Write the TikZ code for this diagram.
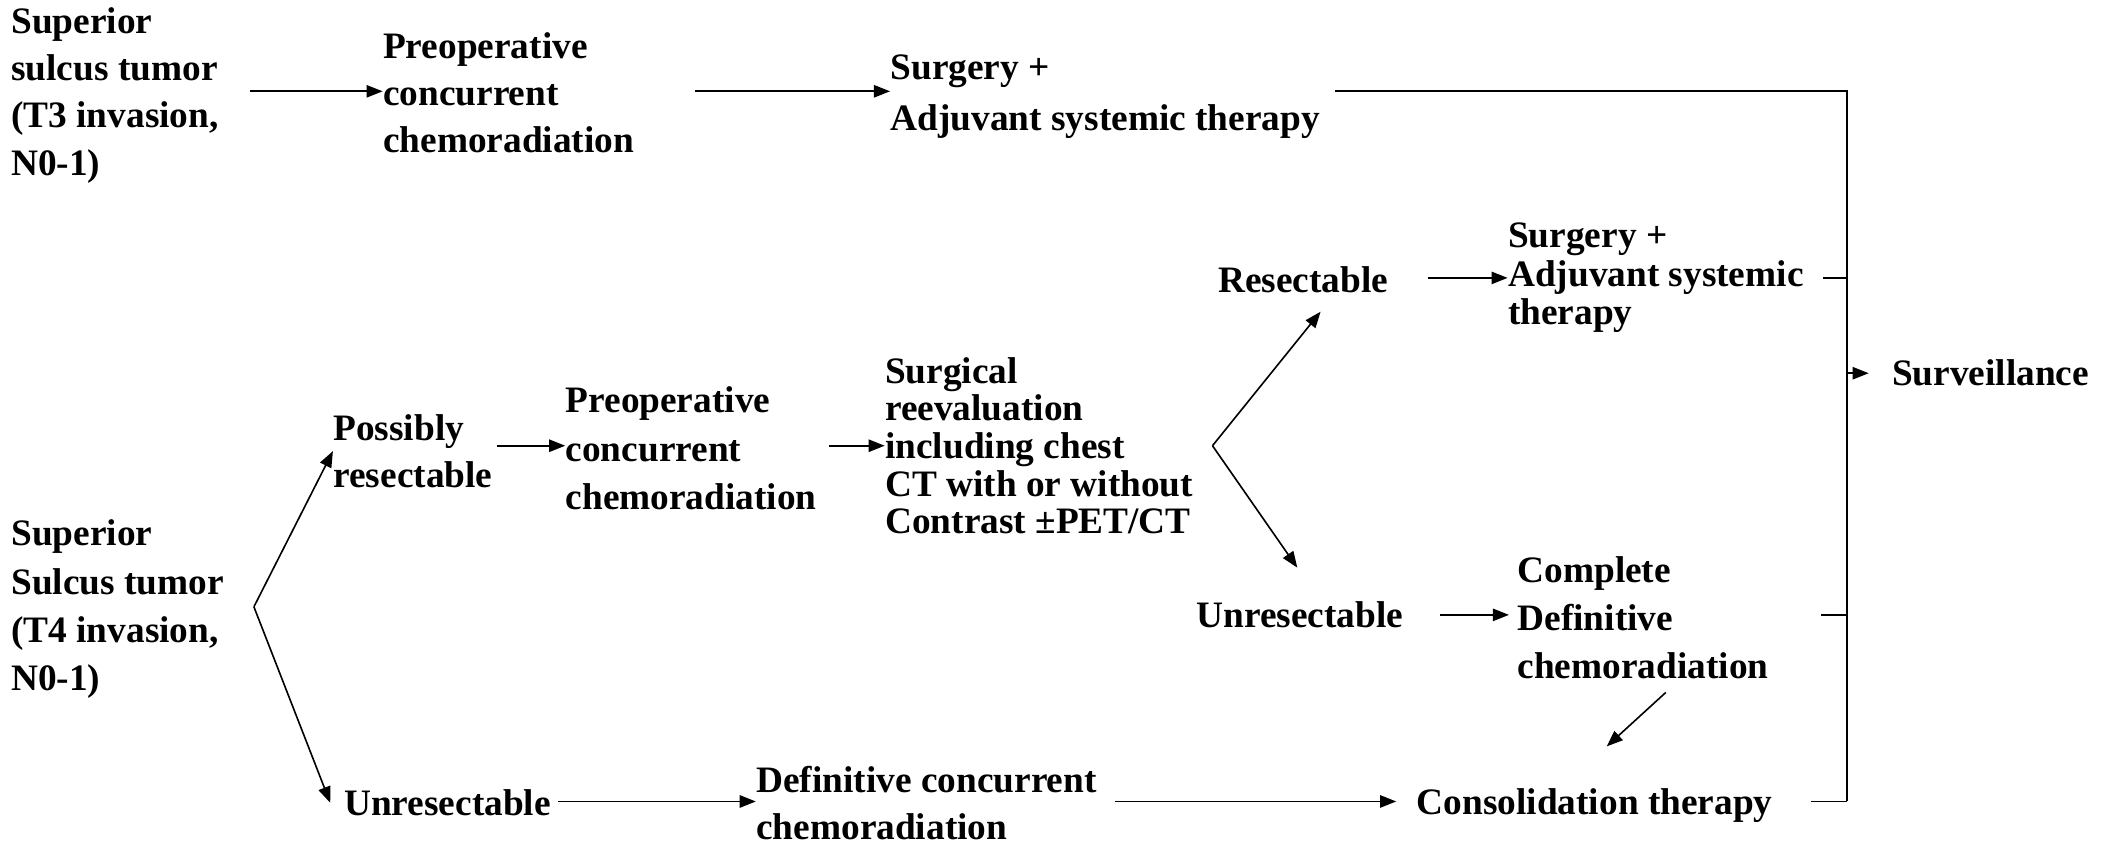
\documentclass[tikz,border=0pt]{standalone}
\usepackage{fontspec}
\setmainfont{Liberation Serif}
\usetikzlibrary{arrows.meta,calc}
\tikzset{
  x=0.5pt, y=-0.5pt,
  lbl/.style={anchor=west, inner sep=0pt, align=left,
    font=\bfseries\fontsize{13.9}{#1}\selectfont},
  lbl/.default={17.6},
  conn/.style={line width=0.6pt, black},
  arr/.style={conn, -{Triangle[length=6pt,width=4.6pt]}},
}
\begin{document}
\begin{tikzpicture}
\useasboundingbox (0,0) rectangle (1568,629);

% T3 pathway
\node[lbl] (t3) at (8,71) {Superior\\sulcus tumor\\(T3 invasion,\\N0-1)};
\node[lbl] (pre1) at (285,69) {Preoperative\\concurrent\\chemoradiation};
\node[lbl=19] (surg1) at (663,72) {Surgery +\\Adjuvant systemic therapy};

% T4 pathway
\node[lbl=18] (t4) at (8,454) {Superior\\Sulcus tumor\\(T4 invasion,\\N0-1)};
\node[lbl] (poss) at (248,336) {Possibly\\resectable};
\node[lbl=18] (pre2) at (421,334) {Preoperative\\concurrent\\chemoradiation};
\node[lbl=14] (reev) at (659,332) {Surgical\\reevaluation\\including chest\\CT with or without\\Contrast ±PET/CT};
\node[lbl] (res) at (907,208) {Resectable};
\node[lbl=14.3] (surg2) at (1123,207) {Surgery +\\Adjuvant systemic\\therapy};
\node[lbl] (unres1) at (891,458) {Unresectable};
\node[lbl=17.8] (comp) at (1130,460) {Complete\\Definitive\\chemoradiation};
\node[lbl] (unres2) at (256,598) {Unresectable};
\node[lbl] (defc) at (563,598) {Definitive concurrent\\chemoradiation};
\node[lbl] (cons) at (1055,600) {Consolidation therapy};
\node[lbl] (surv) at (1409,278) {Surveillance};

% collecting line in front of Surveillance
\coordinate (bus) at (1376,0);

% start points of the connectors
\coordinate (s1) at ($(t3.east)+(23,-3)$);
\coordinate (s2) at ($(pre1.east)+(45,-1)$);
\coordinate (s3) at ($(surg1.east)+(11,-4)$);
\coordinate (s4) at ($(poss.east)+(3,-4)$);
\coordinate (s5) at ($(pre2.east)+(9,-2)$);
\coordinate (s6) at ($(res.east)+(29,-1)$);
\coordinate (s7) at ($(unres1.east)+(27,0)$);
\coordinate (s8) at ($(unres2.east)+(5,-1)$);
\coordinate (s9) at ($(defc.east)+(13,0)$);
\coordinate (j1) at ($(surg2.east)+(14,0)$);
\coordinate (j2) at ($(comp.east)+(39,-2)$);
\coordinate (j3) at ($(cons.east)+(28,-3)$);
% arrow tips that stop short of their text
\coordinate (e1) at ($(unres2.west)+(-10,0)$);
\coordinate (e2) at ($(comp.west)+(-6,0)$);
\coordinate (e3) at ($(cons.west)+(-15,0)$);
\coordinate (e4) at ($(surv.west)+(-17,0)$);

% T3 connectors
\draw[arr] (s1) -- (s1 -| pre1.west);
\draw[arr] (s2) -- (s2 -| surg1.west);
\draw[conn] (s3) -| (j3 -| bus);

% T4 branch
\coordinate (t4fork) at ($(t4.east)+(22,-2)$);
\draw[arr] (t4fork) -- (poss.west);
\draw[arr] (t4fork) -- (e1);
\draw[arr] (s4) -- (s4 -| pre2.west);
\draw[arr] (s5) -- (s5 -| reev.west);

% reevaluation branch
\coordinate (rfork) at ($(reev.east)+(14,0)$);
\draw[arr] (rfork) -- ($(res.south)+(13,14)$);
\draw[arr] (rfork) -- ($(unres1.north)+(-2,-25)$);
\draw[arr] (s6) -- (s6 -| surg2.west);
\draw[arr] (s7) -- (s7 -| e2);
\draw[arr] ($(comp.south)+(17,10)$) -- ($(cons.north)+(9,-31)$);

% unresectable pathway
\draw[arr] (s8) -- (s8 -| defc.west);
\draw[arr] (s9 |- j3) -- (j3 -| e3);

% joins into the collecting line
\draw[conn] (j1) -- (j1 -| bus);
\draw[conn] (j2) -- (j2 -| bus);
\draw[conn] (j3) -- (j3 -| bus);
\draw[arr] (bus |- e4) -- (e4);
\end{tikzpicture}
\end{document}
